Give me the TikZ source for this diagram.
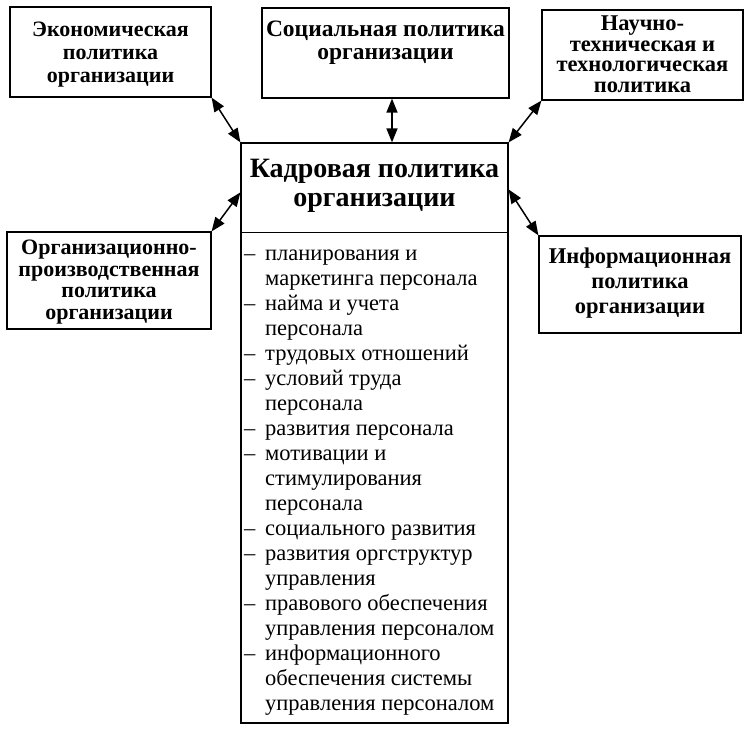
\documentclass[tikz,border=0pt]{standalone}
\usepackage{fontspec}
\setmainfont{Liberation Serif}
\usetikzlibrary{arrows.meta,calc}
\newcommand{\dsh}{\makebox[21pt][l]{–}}
\newcommand{\ind}{\hspace*{21pt}}
\tikzset{
  box/.style={draw, line width=1.2pt, inner sep=0pt},
  hdr/.style={font=\bfseries\fontsize{22}{23}\selectfont, align=center, inner sep=0pt},
  biarrow/.style={{Triangle[length=14pt,width=11pt]}-{Triangle[length=14pt,width=11pt]}, line width=1.5pt},
}
\begin{document}
\begin{tikzpicture}[x=1pt,y=-1pt]
\useasboundingbox (0,0) rectangle (756,739);
% boxes
\node[box, minimum width=201pt, minimum height=90pt] (b1) at (110.5,52) {};
\node[box, minimum width=247pt, minimum height=90pt] (b2) at (385.5,53) {};
\node[box, minimum width=201pt, minimum height=90pt] (b3) at (642.5,55) {};
\node[box, minimum width=204pt, minimum height=97pt] (b4) at (109,280.5) {};
\node[box, minimum width=202pt, minimum height=97pt] (b5) at (640,284.5) {};
\node[box, minimum width=267pt, minimum height=580pt] (kp) at (374.5,433) {};
\draw[line width=1.2pt] ($(kp.north west)+(0,90)$) coordinate (dl) -- ($(kp.north east)+(0,90)$) coordinate (dr);
% texts
\node[hdr] (t1) at (110.5,55) {Экономическая\\политика\\организации};
\node[hdr, font=\bfseries\fontsize{23.5}{23}\selectfont] (t2) at (385.5,43) {Социальная политика\\организации};
\node[hdr, font=\bfseries\fontsize{22.5}{20.5}\selectfont] (t3) at (642.5,54) {Научно-\\техническая и\\технологическая\\политика};
\node[hdr, font=\bfseries\fontsize{22}{21.5}\selectfont] (t4) at (109,282) {Организационно-\\производственная\\политика\\организации};
\node[hdr, font=\bfseries\fontsize{22.5}{25}\selectfont] (t5) at (640,283) {Информационная\\политика\\организации};
\node[hdr, font=\bfseries\fontsize{28}{29}\selectfont] (tk) at (374.5,186) {Кадровая политика\\организации};
\node[anchor=north west, align=left, inner sep=0pt, font=\fontsize{22.5}{25}\selectfont] (lst) at (244,250) {%
\dsh планирования и\\
\ind маркетинга персонала\\
\dsh найма и учета\\
\ind персонала\\
\dsh трудовых отношений\\
\dsh условий труда\\
\ind персонала\\
\dsh развития персонала\\
\dsh мотивации и\\
\ind стимулирования\\
\ind персонала\\
\dsh социального развития\\
\dsh развития оргструктур\\
\ind управления\\
\dsh правового обеспечения\\
\ind управления персоналом\\
\dsh информационного\\
\ind обеспечения системы\\
\ind управления персоналом};
% arrows
\draw[biarrow] (b1.south east) -- (kp.north west);
\draw[biarrow] (b2.south -| 392,0) -- (kp.north -| 392,0);
\draw[biarrow] (b3.south west) -- (kp.north east);
\draw[biarrow] (b4.north east) -- ($(kp.north west)+(0,50)$);
\draw[biarrow] (b5.north west) -- ($(kp.north east)+(0,47)$);
\end{tikzpicture}
\end{document}
